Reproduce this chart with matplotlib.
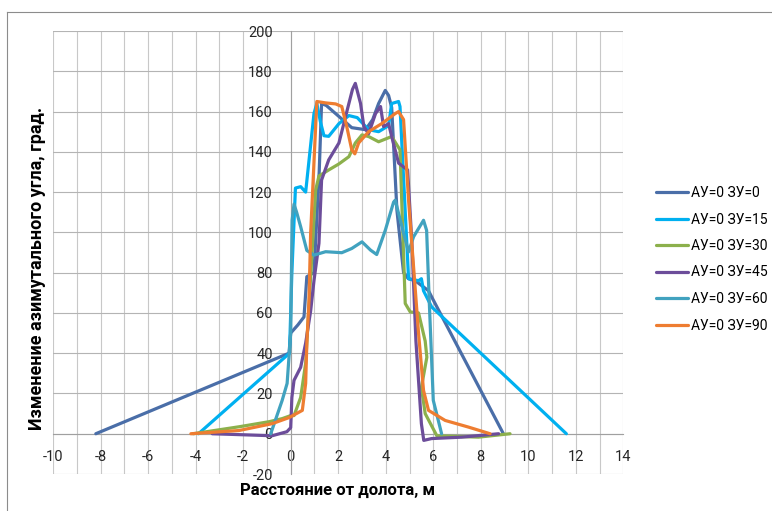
import matplotlib
matplotlib.use("Agg")
import matplotlib.pyplot as plt
from matplotlib.lines import Line2D
from matplotlib.ticker import MultipleLocator

plt.rcParams['font.family'] = ['Roboto', 'DejaVu Sans']
plt.rcParams['axes.unicode_minus'] = False

# АУ=0 ЗУ=0
x_zu0 = [-8.2, -0.07, 0.0, 0.3, 0.56, 0.68, 0.98, 1.2, 1.3, 1.5, 1.89, 2.57, 3.15, 3.45,
         3.7, 3.98, 4.12, 4.25, 4.47, 4.75, 4.95, 5.24, 5.8, 5.93, 8.95]
y_zu0 = [0, 40, 50, 54, 58, 78, 80, 130, 164, 163, 159, 152, 151, 156,
         164, 170.5, 168, 162, 111, 80, 77, 76, 71, 68, 0]

# АУ=0 ЗУ=15
x_zu15 = [-3.88, -0.05, 0.05, 0.2, 0.42, 0.63, 0.98, 1.1, 1.25, 1.4, 1.6, 2.03, 2.45, 2.8,
          3.28, 3.7, 4.12, 4.25, 4.54, 4.6, 4.96, 5.38, 5.5, 5.59, 5.93, 11.6]
y_zu15 = [0, 40, 80, 122, 122.7, 120, 159, 164, 155, 148, 147.7, 154, 158, 157,
          151, 150, 153, 164, 165, 162.5, 77, 76, 77, 71, 63, 0]

# АУ=0 ЗУ=30
x_zu30 = [-4.1, -2.15, -0.9, -0.36, 0.0, 0.14, 0.42, 0.63, 0.85, 1.05, 1.19, 1.6, 2.03,
          2.45, 2.72, 3.0, 3.28, 3.7, 4.25, 4.6, 4.82, 5.03, 5.38, 5.66, 5.73, 5.5,
          5.66, 6.15, 7.9, 9.23]
y_zu30 = [0, 3.5, 6, 7.5, 9, 9, 18, 35, 80, 121, 128, 131, 134,
          137.6, 144.4, 148.4, 147.6, 145, 147.6, 141, 64.7, 60.5, 60, 46, 38, 23,
          10, -1, -1.7, 0]

# АУ=0 ЗУ=45
x_zu45 = [-3.3, -0.78, -0.16, 0.0, 0.05, 0.14, 0.42, 0.63, 0.84, 0.98, 1.19, 1.3, 1.6,
          2.03, 2.38, 2.6, 2.72, 2.94, 3.08, 3.28, 3.57, 3.78, 3.91, 4.12, 4.25, 4.54,
          4.92, 5.1, 5.27, 5.5, 5.6, 5.93, 7.2, 8.75]
y_zu45 = [0, -1, 1, 3, 18, 26.5, 33, 45, 61, 76, 94.6, 126, 136,
          144.4, 160.8, 171, 174, 164, 152.5, 149, 159, 162.5, 152.5, 154, 147.6, 134.4,
          131, 95, 46, 5, -3.3, -2.4, -1.7, 0]

# АУ=0 ЗУ=60
x_zu60 = [-0.84, -0.36, -0.15, 0.0, 0.06, 0.14, 0.25, 0.42, 0.68, 0.98, 1.47, 2.15, 2.57,
          3.0, 3.36, 3.62, 3.98, 4.33, 4.4, 4.75, 4.96, 5.17, 5.59, 5.72, 5.83, 6.0,
          6.35]
y_zu60 = [0, 16.5, 25, 50, 106, 114, 110, 102.8, 91, 88.7, 90.4, 89.9, 92,
          95.3, 91.2, 89, 101, 115, 116, 99.6, 90.3, 97.8, 106, 101, 66, 16.6,
          0]

# АУ=0 ЗУ=90
x_zu90 = [-4.2, -2.17, -0.78, -0.07, 0.49, 0.63, 0.68, 0.77, 0.84, 1.1, 1.47, 1.89, 2.15,
          2.36, 2.57, 2.7, 2.86, 3.28, 3.83, 4.4, 4.54, 4.75, 4.96, 5.17, 5.38, 5.59,
          5.8, 6.5, 7.48, 8.39]
y_zu90 = [0, 1.6, 5, 8, 11.6, 25, 45, 66, 99.6, 165, 164.3, 163.8, 162.5,
          152.5, 141, 139, 144.4, 150, 154, 159, 160, 156, 116, 83, 50, 21.5,
          11.6, 6.6, 3.3, 0]

series = [
    ("АУ=0 ЗУ=0", x_zu0, y_zu0, "#4A6EA8"),
    ("АУ=0 ЗУ=15", x_zu15, y_zu15, "#00B0F0"),
    ("АУ=0 ЗУ=30", x_zu30, y_zu30, "#8CB04C"),
    ("АУ=0 ЗУ=45", x_zu45, y_zu45, "#6C4D9A"),
    ("АУ=0 ЗУ=60", x_zu60, y_zu60, "#41A2BF"),
    ("АУ=0 ЗУ=90", x_zu90, y_zu90, "#EE7D31"),
]

fig = plt.figure(figsize=(7.72, 5.11), dpi=100)
ax = fig.add_axes([0.0687, 0.0724, 0.7388, 0.8669])

for label, xs, ys, color in series:
    ax.plot(xs, ys, color=color, lw=2.3, label=label,
            solid_joinstyle='round', solid_capstyle='round', zorder=3)

ax.set_xlim(-10, 14)
ax.set_ylim(-20, 200)
ax.xaxis.set_major_locator(MultipleLocator(2))
ax.xaxis.set_minor_locator(MultipleLocator(1))
ax.yaxis.set_major_locator(MultipleLocator(20))

ax.grid(True, which='both', axis='x', color='#C8C8C8', lw=0.8)
ax.grid(True, which='major', axis='y', color='#B4B4B4', lw=0.8)
ax.set_axisbelow(True)

# оси проходят через ноль
for side in ('top', 'right'):
    ax.spines[side].set_visible(False)
ax.spines['left'].set_position(('data', 0))
ax.spines['bottom'].set_position(('data', 0))
ax.spines['left'].set_color('#A0A0A0')
ax.spines['bottom'].set_color('#A0A0A0')
ax.spines['left'].set_linewidth(0.8)
ax.spines['bottom'].set_linewidth(0.8)

ax.tick_params(axis='both', which='both', length=0, labelsize=10.5, colors='#262626')
ax.tick_params(axis='x', pad=12)
ax.tick_params(axis='y', pad=13)

fig.text(338 / 772, 1 - 490 / 511, "Расстояние от долота, м",
         ha='center', va='center', fontsize=12, fontweight='bold')
fig.text(37 / 772, 1 - 268 / 511, "Изменение азимутального угла, град.",
         ha='center', va='center', rotation=90, fontsize=13, fontweight='bold')

fig.legend(loc='upper left', bbox_to_anchor=(656 / 772, 1 - 186 / 511),
           frameon=False, fontsize=10, handlelength=2.3, handletextpad=0.2,
           labelspacing=0.9, borderpad=0, borderaxespad=0)

# рамка области диаграммы
fig.add_artist(Line2D([7 / 772, 7 / 772], [0, 1 - 12 / 511],
                      transform=fig.transFigure, color='#8C8C8C', lw=0.8))
fig.add_artist(Line2D([7 / 772, 1], [1 - 12 / 511, 1 - 12 / 511],
                      transform=fig.transFigure, color='#8C8C8C', lw=0.8))

fig.savefig("out.png", dpi=100)
